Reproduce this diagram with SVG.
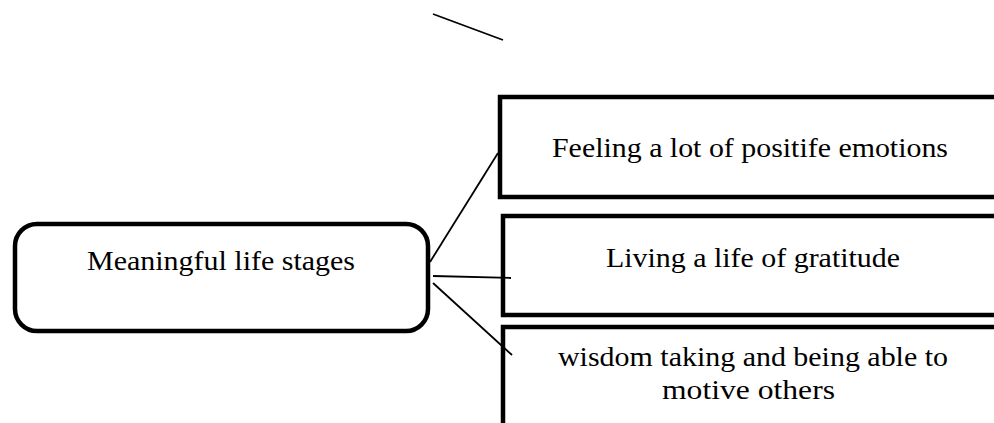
<svg xmlns="http://www.w3.org/2000/svg" width="994" height="423" viewBox="0 0 994 423">
<style>
.box{fill:#fff;stroke:#000;stroke-width:4.5}
.t{font-family:"Liberation Serif","Times New Roman",serif;font-size:28px;fill:#000}
.c{stroke:#000;stroke-width:1.8;fill:none}
</style>
<rect width="994" height="423" fill="#fff"/>
<g id="node-main">
<rect class="box" x="15" y="224" width="413" height="107" rx="22"/>
<text class="t" x="87" y="270" textLength="268" lengthAdjust="spacingAndGlyphs">Meaningful life stages</text>
</g>
<g id="node-feeling">
<rect class="box" x="500" y="97" width="600" height="100"/>
<text class="t" x="552" y="157" textLength="396" lengthAdjust="spacingAndGlyphs">Feeling a lot of positife emotions</text>
</g>
<g id="node-gratitude">
<rect class="box" x="503" y="216" width="600" height="99"/>
<text class="t" x="606" y="267" textLength="294" lengthAdjust="spacingAndGlyphs">Living a life of gratitude</text>
</g>
<g id="node-wisdom">
<rect class="box" x="503" y="327" width="600" height="130"/>
<text class="t" x="558" y="366" textLength="390" lengthAdjust="spacingAndGlyphs">wisdom taking and being able to</text>
<text class="t" x="662" y="399" textLength="173" lengthAdjust="spacingAndGlyphs">motive others</text>
</g>
<g id="connectors">
<line class="c" x1="433" y1="14" x2="503" y2="40"/>
<line class="c" x1="430" y1="262" x2="498" y2="153"/>
<line class="c" x1="433" y1="276" x2="511" y2="278"/>
<line class="c" x1="433" y1="283" x2="512" y2="355"/>
</g>
</svg>
